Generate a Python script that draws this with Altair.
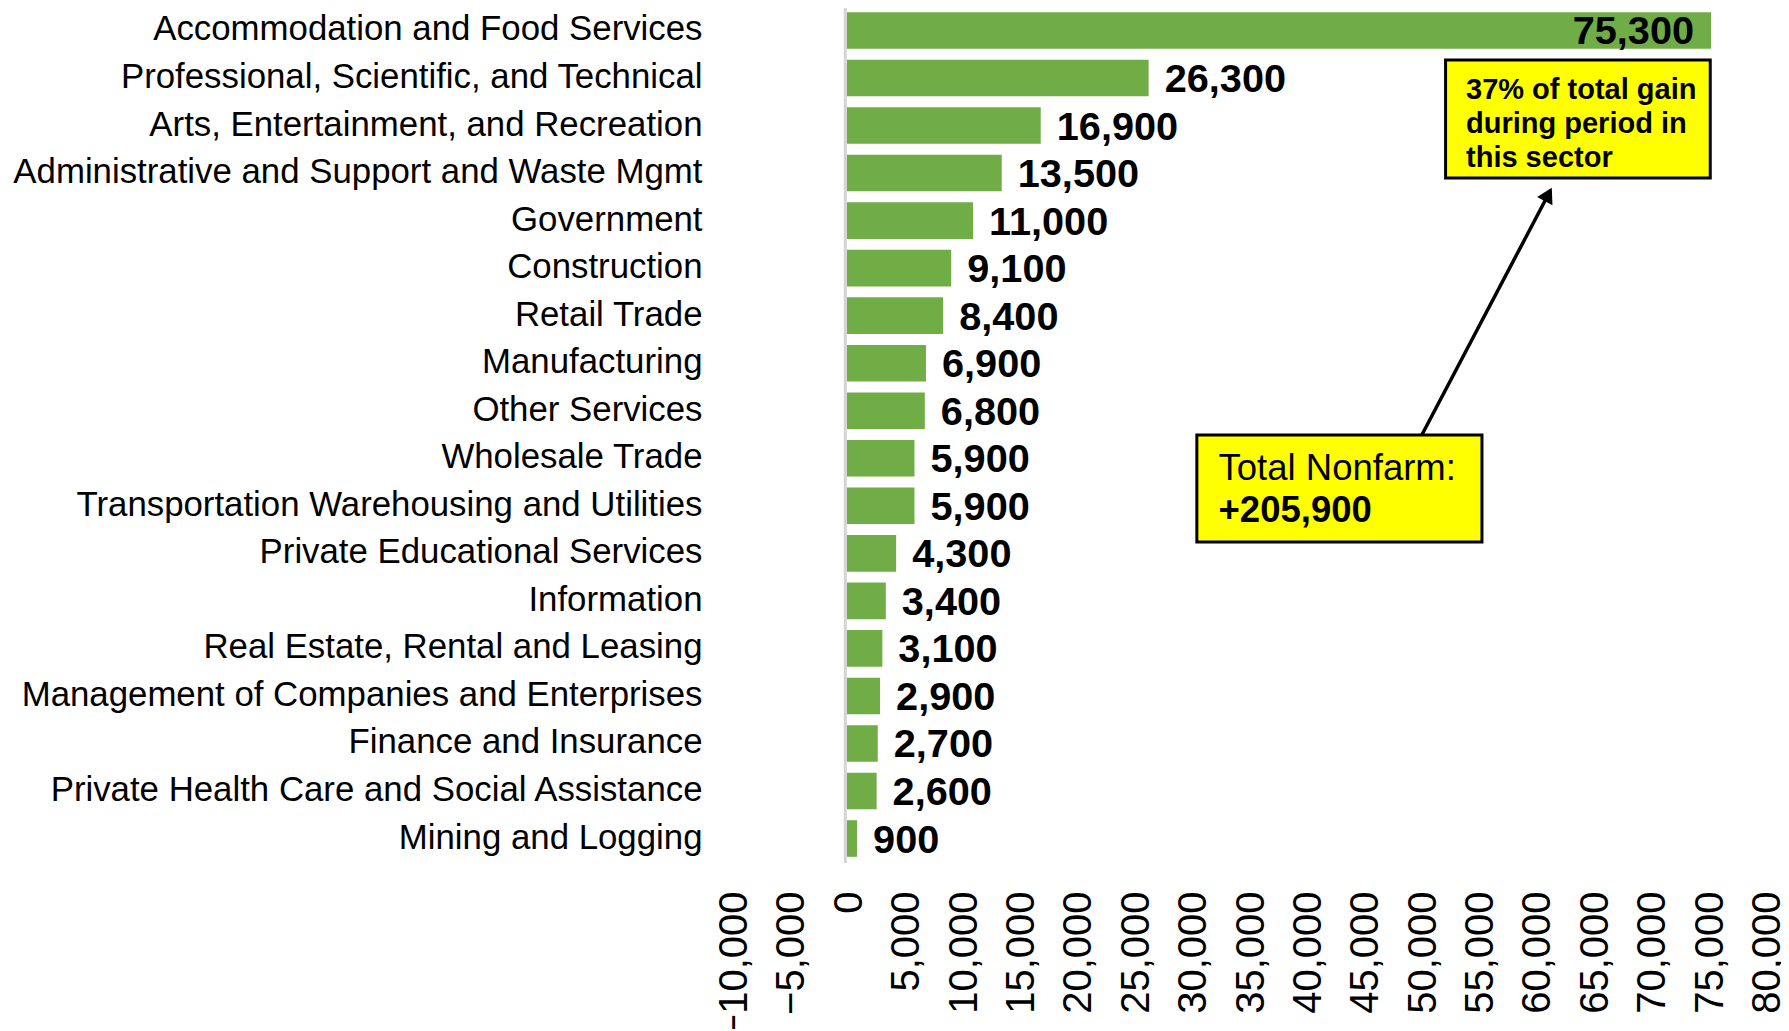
import altair as alt
import pandas as pd

categories = [
    "Accommodation and Food Services",
    "Professional, Scientific, and Technical",
    "Arts, Entertainment, and Recreation",
    "Administrative and Support and Waste Mgmt",
    "Government",
    "Construction",
    "Retail Trade",
    "Manufacturing",
    "Other Services",
    "Wholesale Trade",
    "Transportation Warehousing and Utilities",
    "Private Educational Services",
    "Information",
    "Real Estate, Rental and Leasing",
    "Management of Companies and Enterprises",
    "Finance and Insurance",
    "Private Health Care and Social Assistance",
    "Mining and Logging",
]
values = [75300, 26300, 16900, 13500, 11000, 9100, 8400, 6900, 6800,
          5900, 5900, 4300, 3400, 3100, 2900, 2700, 2600, 900]

tick_values = list(range(-10000, 80001, 5000))
x_domain = [-10000, 80000]

# annotation content / anchors (data units on x, pixel offsets on y)
box1_text = ["37% of total gain", "during period in", "this sector"]
box1_x = [52170, 75230]
box1_y = [54, 172]
box1_text_x = [53950]
box2_line1 = "Total Nonfarm:"
box2_line2 = "+205,900"
box2_x = [30500, 55340]
box2_y = [429, 536]
box2_text_x = [32390]
arrow_x = [50100, 61120]
arrow_y = [429, 188.5]

FONT = "Liberation Sans"
GREEN = "#70AD47"
YELLOW = "#FFFF00"

df = pd.DataFrame({"sector": categories, "value": values})

x_scale = alt.Scale(domain=x_domain, nice=False, zero=False)
x_axis = alt.Axis(values=tick_values, format=",.0f", labelAngle=-90, labelFontSize=40,
                  labelFont=FONT, labelColor="black", grid=False, domain=False,
                  ticks=False, labelPadding=28, labelOffset=2.5, title=None)
y_enc = alt.Y("sector:N", sort=categories, title=None,
              scale=alt.Scale(paddingInner=0.23, paddingOuter=0.13),
              axis=alt.Axis(labelFontSize=34.8, labelFont=FONT, labelColor="black",
                            domain=False, ticks=False, grid=False, labelPadding=30,
                            labelLimit=1000))


def xq(field):
    return alt.X(field, type="quantitative", scale=x_scale, axis=x_axis, title=None)


base = alt.Chart(df)

bars = base.mark_bar(color=GREEN).encode(x=xq("value"), y=y_enc)

zero_rule = alt.Chart(pd.DataFrame({"z": [0]})).mark_rule(
    color="#D4D4D4", strokeWidth=3, xOffset=-1.5
).encode(x=xq("z"))

labels_out = base.transform_filter("datum.value < 60000").mark_text(
    align="left", baseline="middle", dx=16, dy=2, fontSize=39.7, fontWeight="bold",
    font=FONT, color="black"
).encode(x=xq("value"), y=y_enc, text=alt.Text("value:Q", format=","))

labels_in = base.transform_filter("datum.value >= 60000").mark_text(
    align="right", baseline="middle", dx=-17, dy=2, fontSize=39.7, fontWeight="bold",
    font=FONT, color="black"
).encode(x=xq("value"), y=y_enc, text=alt.Text("value:Q", format=","))

b1 = pd.DataFrame({"x": [box1_x[0]], "x2": [box1_x[1]], "tx": box1_text_x})
b2 = pd.DataFrame({"x": [box2_x[0]], "x2": [box2_x[1]], "tx": box2_text_x})
ar = pd.DataFrame({"x": [arrow_x[0]], "x2": [arrow_x[1]]})

box1 = alt.Chart(b1).mark_rect(fill=YELLOW, stroke="black", strokeWidth=3).encode(
    x=xq("x"), x2="x2", y=alt.value(box1_y[0]), y2=alt.value(box1_y[1]))
box1_txt = alt.Chart(b1).mark_text(
    align="left", baseline="middle", fontSize=29, fontWeight="bold", font=FONT,
    color="black", lineBreak="\n", lineHeight=34
).encode(x=xq("tx"), y=alt.value(84), text=alt.value("\n".join(box1_text)))

box2 = alt.Chart(b2).mark_rect(fill=YELLOW, stroke="black", strokeWidth=3).encode(
    x=xq("x"), x2="x2", y=alt.value(box2_y[0]), y2=alt.value(box2_y[1]))
box2_t1 = alt.Chart(b2).mark_text(
    align="left", baseline="middle", fontSize=36.5, font=FONT, color="black"
).encode(x=xq("tx"), y=alt.value(463), text=alt.value(box2_line1))
box2_t2 = alt.Chart(b2).mark_text(
    align="left", baseline="middle", fontSize=36.5, fontWeight="bold", font=FONT,
    color="black"
).encode(x=xq("tx"), y=alt.value(505), text=alt.value(box2_line2))

arrow = alt.Chart(ar).mark_rule(color="black", strokeWidth=3.5).encode(
    x=xq("x"), x2="x2", y=alt.value(arrow_y[0]), y2=alt.value(arrow_y[1]))
arrow_head = alt.Chart(ar).mark_point(
    shape="triangle-up", filled=True, color="black", opacity=1, size=300, angle=27.8
).encode(x=xq("x2"), y=alt.value(arrow_y[1]))

chart = alt.layer(
    bars, zero_rule, labels_out, labels_in, arrow, arrow_head,
    box1, box1_txt, box2, box2_t1, box2_t2
).properties(
    width=1033, height=857,
    autosize=alt.AutoSizeParams(type="none"),
    padding={"left": 724, "top": -2, "right": 16, "bottom": 166},
).configure_view(stroke=None)

chart.save("out.html", embed_options={"renderer": "svg", "actions": False})
